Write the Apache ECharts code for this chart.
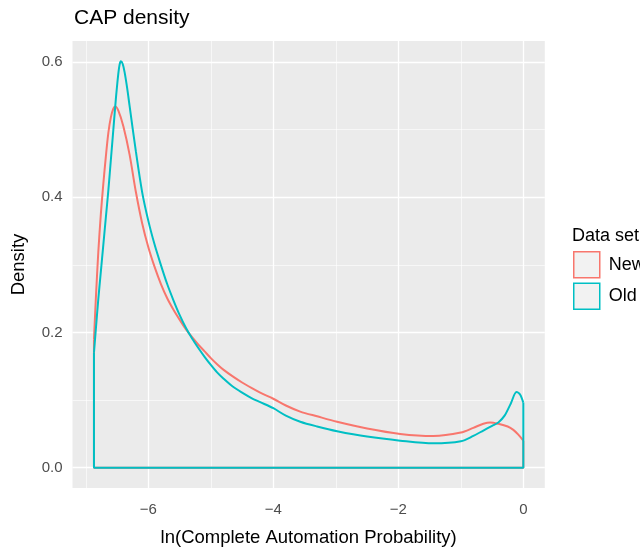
<!DOCTYPE html>
<html>
<head>
<meta charset="utf-8">
<script src="https://cdn.jsdelivr.net/npm/echarts@6/dist/echarts.min.js"></script>
<style>html,body{margin:0;padding:0;background:#fff}#c{width:640px;height:552px}</style>
</head>
<body>
<div id="c"></div>
<script>
// ---- data ----
var newX = [-6.87,-6.84,-6.80,-6.76,-6.72,-6.68,-6.64,-6.60,-6.56,-6.53,-6.48,-6.40,-6.30,-6.20,-6.10,-6.00,-5.90,-5.80,-5.70,-5.60,-5.50,-5.40,-5.30,-5.20,-5.10,-5.00,-4.90,-4.80,-4.65,-4.50,-4.35,-4.21,-4.00,-3.80,-3.57,-3.30,-2.98,-2.50,-1.97,-1.44,-1.00,-0.80,-0.64,-0.53,-0.40,-0.25,-0.16,-0.08,0];
var newY = [0.19,0.25,0.32,0.375,0.42,0.46,0.495,0.518,0.531,0.534,0.528,0.505,0.463,0.408,0.362,0.326,0.297,0.272,0.251,0.234,0.219,0.205,0.193,0.182,0.172,0.162,0.153,0.145,0.135,0.126,0.118,0.111,0.102,0.092,0.083,0.076,0.068,0.058,0.050,0.047,0.052,0.059,0.065,0.067,0.065,0.061,0.056,0.049,0.040];
var oldX = [-6.87,-6.84,-6.80,-6.76,-6.72,-6.68,-6.64,-6.60,-6.56,-6.52,-6.48,-6.46,-6.44,-6.41,-6.38,-6.34,-6.30,-6.20,-6.10,-6.00,-5.90,-5.80,-5.70,-5.60,-5.50,-5.40,-5.30,-5.20,-5.10,-5.00,-4.90,-4.80,-4.65,-4.50,-4.35,-4.21,-4.00,-3.80,-3.57,-3.30,-2.98,-2.50,-1.97,-1.44,-1.00,-0.80,-0.64,-0.50,-0.40,-0.30,-0.20,-0.11,-0.05,0];
var oldY = [0.17,0.205,0.25,0.29,0.33,0.37,0.41,0.455,0.50,0.545,0.583,0.596,0.601,0.597,0.585,0.562,0.535,0.468,0.408,0.365,0.330,0.300,0.272,0.248,0.226,0.207,0.191,0.177,0.164,0.152,0.141,0.132,0.120,0.111,0.103,0.097,0.088,0.077,0.068,0.061,0.054,0.046,0.040,0.036,0.039,0.047,0.055,0.062,0.067,0.077,0.095,0.112,0.108,0.096];
var xMajor = [-6,-4,-2,0];
var xMinor = [-7,-5,-3,-1];
var yMajor = [0,0.2,0.4,0.6];
var yMinor = [0.1,0.3,0.5];
var seriesNames = ['New','Old'];
var colors = ['#F8766D','#00BFC4'];

function pts(xs, ys){ return xs.map(function(x,i){return [x, ys[i]];}); }
function outline(xs, ys){
  var n = xs.length-1;
  return [[xs[0],ys[0]],[xs[0],0],[xs[n],0],[xs[n],ys[n]]];
}
var FONT = 'Liberation Sans, Arial, Helvetica, sans-serif';
var gridLines = [];
xMajor.forEach(function(v){gridLines.push({xAxis:v,lineStyle:{width:1.3}});});
xMinor.forEach(function(v){gridLines.push({xAxis:v,lineStyle:{width:0.6}});});
yMajor.forEach(function(v){gridLines.push({yAxis:v,lineStyle:{width:1.3}});});
yMinor.forEach(function(v){gridLines.push({yAxis:v,lineStyle:{width:0.6}});});

var sets = [[newX,newY],[oldX,oldY]];
var series = [{
  type:'line', name:'_grid', data:[], silent:true, z:1,
  markLine:{silent:true, z:1, symbol:['none','none'], animation:false, label:{show:false},
    lineStyle:{type:'solid', color:'#ffffff'}, data:gridLines}
}];
sets.forEach(function(s,i){
  series.push({type:'line', name:seriesNames[i], data:pts(s[0],s[1]), smooth:0.3, showSymbol:false,
    lineStyle:{color:colors[i], width:2}, itemStyle:{color:colors[i]}, z:3+i, animation:false, silent:true});
  series.push({type:'line', name:seriesNames[i], data:outline(s[0],s[1]), smooth:false, showSymbol:false,
    lineStyle:{color:colors[i], width:2}, itemStyle:{color:colors[i]}, z:3+i, animation:false, silent:true});
});

var chart = echarts.init(document.getElementById('c'), null, {renderer:'canvas'});
chart.setOption({
  backgroundColor:'#ffffff',
  animation:false,
  textStyle:{fontFamily:FONT},
  title:[
    {text:'CAP density', left:74, top:8, padding:0, textStyle:{fontFamily:FONT, fontSize:21, fontWeight:'normal', color:'#000'}},
    {text:'Data set', left:572, top:227, padding:0, textStyle:{fontFamily:FONT, fontSize:18, fontWeight:'normal', color:'#000'}}
  ],
  legend:{
    orient:'vertical', left:573, top:251, padding:0, itemWidth:26, itemHeight:26, itemGap:4, selectedMode:false,
    textStyle:{fontFamily:FONT, fontSize:18, color:'#000', padding:[0,0,0,4]},
    data:seriesNames.map(function(n,i){return {name:n, icon:'rect', itemStyle:{color:'#F2F2F2', borderColor:colors[i], borderWidth:1.5}};})
  },
  grid:{left:72.5, top:41, width:472.3, height:453.9, show:true, backgroundColor:'#EBEBEB', borderWidth:0},
  xAxis:{
    type:'value', min:-7.2135, max:0.3435,
    name:'ln(Complete Automation Probability)', nameLocation:'middle', nameGap:40,
    nameTextStyle:{fontFamily:FONT, fontSize:18.5, color:'#000'},
    axisLine:{show:false},
    axisTick:{show:true, length:4, lineStyle:{color:'#333', width:1}, customValues:xMajor},
    axisLabel:{fontFamily:FONT, fontSize:15, color:'#4D4D4D', margin:14, customValues:xMajor,
      formatter:function(v){return String(v).replace('-', '\u2212');}},
    splitLine:{show:false}
  },
  yAxis:{
    type:'value', min:-0.03, max:0.631,
    name:'Density', nameLocation:'middle', nameGap:44,
    nameTextStyle:{fontFamily:FONT, fontSize:18.5, color:'#000'},
    axisLine:{show:false},
    axisTick:{show:true, length:4, lineStyle:{color:'#333', width:1}, customValues:yMajor},
    axisLabel:{fontFamily:FONT, fontSize:15, color:'#4D4D4D', margin:10, customValues:yMajor,
      formatter:function(v){return v.toFixed(1);}},
    splitLine:{show:false}
  },
  series:series
});
</script>
</body>
</html>
